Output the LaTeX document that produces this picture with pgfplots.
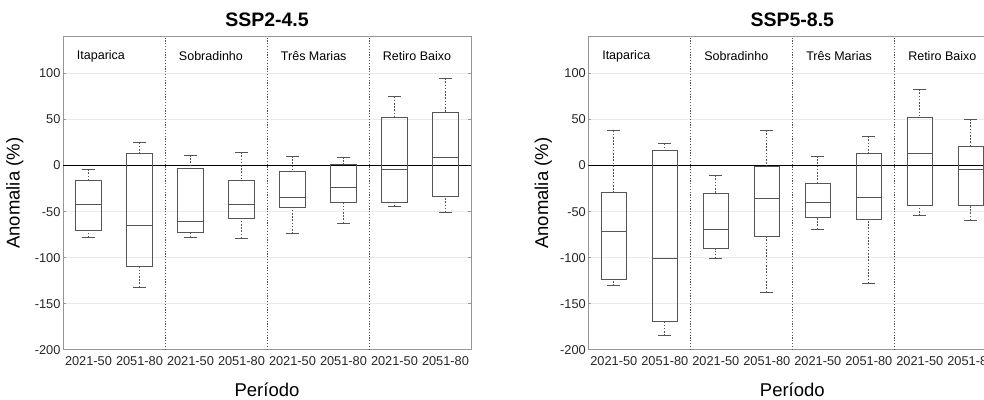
\documentclass[border=0pt]{standalone}
\usepackage{fontspec}
\setmainfont{Liberation Sans}
\usepackage{pgfplots}
\pgfplotsset{compat=1.18}
\usepgfplotslibrary{statistics}
\definecolor{boxc}{RGB}{85,85,85}
\definecolor{framec}{RGB}{150,150,150}
\definecolor{gridc}{RGB}{235,235,235}
\definecolor{tickc}{RGB}{38,38,38}
\tikzset{grp/.style={anchor=west, inner xsep=0pt, font=\fontsize{12.5}{15}\selectfont, text=black}}
\pgfplotsset{
 myaxis/.style={
  scale only axis, width=408pt, height=313pt,
  xmin=0.5, xmax=8.5, ymin=-200, ymax=140,
  xtick={1,2,3,4,5,6,7,8},
  xticklabels={2021-50,2051-80,2021-50,2051-80,2021-50,2051-80,2021-50,2051-80},
  ytick={-200,-150,-100,-50,0,50,100},
  ymajorgrids, grid style={gridc, line width=0.8pt},
  axis line style={framec, line width=0.8pt},
  tick align=inside, major tick length=3pt,
  xtick style={draw=none}, ytick style={framec, line width=0.8pt},
  ticklabel style={font=\fontsize{12.8}{15}\selectfont, text=tickc},
  /pgf/number format/assume math mode=true,
  yticklabel style={xshift=1pt},
  xticklabel style={anchor=base, yshift=-15.5pt},
  xlabel={Período}, ylabel={Anomalia (\%)},
  label style={font=\fontsize{18.5}{22}\selectfont},
  xlabel style={at={(axis description cs:0.5,0)}, anchor=base, yshift=-47pt},
  title style={at={(axis description cs:0.5,1)}, anchor=base, yshift=4pt, font=\bfseries\fontsize{19.5}{23}\selectfont},
  boxplot/draw direction=y,
  boxplot/box extend=0.5, boxplot/whisker extend=0.25,
  boxplot/draw/lower whisker/.code={%
    \draw[boxc, line width=0.8pt, dash pattern=on 1.6pt off 1.6pt] (boxplot box cs:\pgfplotsboxplotvalue{lower whisker},0.5) -- (boxplot box cs:\pgfplotsboxplotvalue{lower quartile},0.5);
    \draw[boxc, line width=0.8pt] (boxplot whisker cs:\pgfplotsboxplotvalue{lower whisker},0) -- (boxplot whisker cs:\pgfplotsboxplotvalue{lower whisker},1);
  },
  boxplot/draw/upper whisker/.code={%
    \draw[boxc, line width=0.8pt, dash pattern=on 1.6pt off 1.6pt] (boxplot box cs:\pgfplotsboxplotvalue{upper whisker},0.5) -- (boxplot box cs:\pgfplotsboxplotvalue{upper quartile},0.5);
    \draw[boxc, line width=0.8pt] (boxplot whisker cs:\pgfplotsboxplotvalue{upper whisker},0) -- (boxplot whisker cs:\pgfplotsboxplotvalue{upper whisker},1);
  },
 },
 bx/.style={boxc, line width=0.8pt, solid, mark=none},
 sep/.style={boxc, line width=0.8pt, dash pattern=on 1.2pt off 1.6pt, mark=none},
}
\begin{document}
\begin{tikzpicture}[x=1pt,y=1pt]
\useasboundingbox (0,0) rectangle (984,399);
\clip (0,0) rectangle (984,399);
% ---------------- SSP2-4.5 ----------------
\begin{axis}[myaxis, at={(63pt,49.3pt)}, anchor=south west, title={SSP2-4.5},
  ylabel style={at={(axis description cs:-0.118,0.5)}, anchor=center}]
\addplot[sep] coordinates {(2.5,-200) (2.5,140)};
\addplot[sep] coordinates {(4.5,-200) (4.5,140)};
\addplot[sep] coordinates {(6.5,-200) (6.5,140)};
\addplot[black, line width=0.8pt, mark=none] coordinates {(0.5,0) (8.5,0)};
\addplot[bx, boxplot prepared={draw position=1, lower whisker=-78, lower quartile=-70, median=-42.5, upper quartile=-16, upper whisker=-4}] coordinates {};
\addplot[bx, boxplot prepared={draw position=2, lower whisker=-132, lower quartile=-109, median=-65.5, upper quartile=13.5, upper whisker=25}] coordinates {};
\addplot[bx, boxplot prepared={draw position=3, lower whisker=-78, lower quartile=-73, median=-61, upper quartile=-3, upper whisker=11.5}] coordinates {};
\addplot[bx, boxplot prepared={draw position=4, lower whisker=-79, lower quartile=-57, median=-42.5, upper quartile=-16, upper whisker=14.5}] coordinates {};
\addplot[bx, boxplot prepared={draw position=5, lower whisker=-74, lower quartile=-45, median=-34.5, upper quartile=-6, upper whisker=10.5}] coordinates {};
\addplot[bx, boxplot prepared={draw position=6, lower whisker=-62.5, lower quartile=-39.5, median=-23.5, upper quartile=1.5, upper whisker=9.3}] coordinates {};
\addplot[bx, boxplot prepared={draw position=7, lower whisker=-44.5, lower quartile=-39.5, median=-4.5, upper quartile=52, upper whisker=75}] coordinates {};
\addplot[bx, boxplot prepared={draw position=8, lower whisker=-51, lower quartile=-33, median=8.5, upper quartile=58, upper whisker=95}] coordinates {};
\node[grp] at (axis cs:0.77,119) {Itaparica};
\node[grp] at (axis cs:2.77,119) {Sobradinho};
\node[grp] at (axis cs:4.77,119) {Três Marias};
\node[grp] at (axis cs:6.77,119) {Retiro Baixo};
\end{axis}
% ---------------- SSP5-8.5 ----------------
\begin{axis}[myaxis, at={(588.3pt,49.3pt)}, anchor=south west, title={SSP5-8.5},
  ylabel style={at={(axis description cs:-0.110,0.5)}, anchor=center}]
\addplot[sep] coordinates {(2.5,-200) (2.5,140)};
\addplot[sep] coordinates {(4.5,-200) (4.5,140)};
\addplot[sep] coordinates {(6.5,-200) (6.5,140)};
\addplot[black, line width=0.8pt, mark=none] coordinates {(0.5,0) (8.5,0)};
\addplot[bx, boxplot prepared={draw position=1, lower whisker=-130.5, lower quartile=-124, median=-71.5, upper quartile=-29, upper whisker=38}] coordinates {};
\addplot[bx, boxplot prepared={draw position=2, lower whisker=-185, lower quartile=-169.5, median=-101, upper quartile=16.5, upper whisker=24}] coordinates {};
\addplot[bx, boxplot prepared={draw position=3, lower whisker=-101, lower quartile=-90.5, median=-69, upper quartile=-30, upper whisker=-10.5}] coordinates {};
\addplot[bx, boxplot prepared={draw position=4, lower whisker=-137.5, lower quartile=-76.5, median=-36, upper quartile=-1, upper whisker=38.5}] coordinates {};
\addplot[bx, boxplot prepared={draw position=5, lower whisker=-69, lower quartile=-56, median=-40.5, upper quartile=-19, upper whisker=10.5}] coordinates {};
\addplot[bx, boxplot prepared={draw position=6, lower whisker=-128, lower quartile=-58.5, median=-34.5, upper quartile=13.5, upper whisker=32}] coordinates {};
\addplot[bx, boxplot prepared={draw position=7, lower whisker=-54.5, lower quartile=-43, median=13.5, upper quartile=52.5, upper whisker=83}] coordinates {};
\addplot[bx, boxplot prepared={draw position=8, lower whisker=-59.5, lower quartile=-43, median=-4.5, upper quartile=20.5, upper whisker=50.5}] coordinates {};
\node[grp] at (axis cs:0.77,119) {Itaparica};
\node[grp] at (axis cs:2.77,119) {Sobradinho};
\node[grp] at (axis cs:4.77,119) {Três Marias};
\node[grp] at (axis cs:6.77,119) {Retiro Baixo};
\end{axis}
\end{tikzpicture}
\end{document}
